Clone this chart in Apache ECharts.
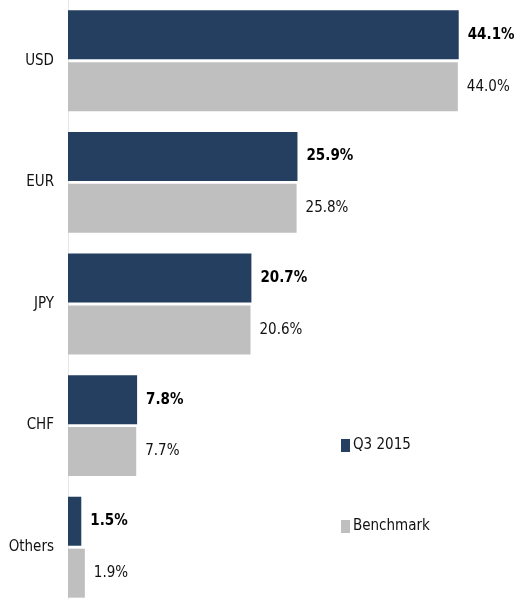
<!DOCTYPE html>
<html><head><meta charset="utf-8">
<script src="https://cdn.jsdelivr.net/npm/echarts@6/dist/echarts.min.js"></script>
<style>html,body{margin:0;padding:0;background:#fff;overflow:hidden}#c{width:517px;height:608px}</style>
</head><body><div id="c"></div>
<script>
const categories = ['USD', 'EUR', 'JPY', 'CHF', 'Others'];
const q3_2015 = [44.1, 25.9, 20.7, 7.8, 1.5];
const benchmark = [44.0, 25.8, 20.6, 7.7, 1.9];
const seriesNames = ['Q3 2015', 'Benchmark'];

const FONT = '"DejaVu Sans Condensed", "Liberation Sans Narrow", sans-serif';
const chart = echarts.init(document.getElementById('c'));
chart.setOption({
  animation: false,
  textStyle: { fontFamily: FONT },
  grid: { left: 68, top: 0, right: 6, bottom: 0 },
  legend: {
    orient: 'vertical', left: 336, top: 433,
    itemWidth: 9, itemHeight: 13, itemGap: 66, icon: 'rect',
    textStyle: { fontFamily: FONT, fontSize: 15, color: '#111', padding: [0, 0, 0, -2] },
    data: seriesNames
  },
  xAxis: { type: 'value', min: 0, max: 50, show: false },
  yAxis: {
    type: 'category', inverse: true, data: categories,
    axisLine: { show: true, lineStyle: { color: '#e6e6e6', width: 1 } },
    axisTick: { show: false },
    axisLabel: { fontFamily: FONT, fontSize: 15, color: '#111', margin: 14 }
  },
  series: [
    {
      name: seriesNames[0], type: 'bar', data: q3_2015, barWidth: 49, barGap: '6%',
      itemStyle: { color: '#243F60' },
      label: { show: true, position: 'right', distance: 9, fontFamily: FONT, fontSize: 15,
        fontWeight: 'bold', color: '#000', formatter: p => p.value.toFixed(1) + '%' }
    },
    {
      name: seriesNames[1], type: 'bar', data: benchmark, barWidth: 49,
      itemStyle: { color: '#BFBFBF' },
      label: { show: true, position: 'right', distance: 9, fontFamily: FONT, fontSize: 15,
        color: '#111', formatter: p => p.value.toFixed(1) + '%' }
    }
  ]
});
</script></body></html>
